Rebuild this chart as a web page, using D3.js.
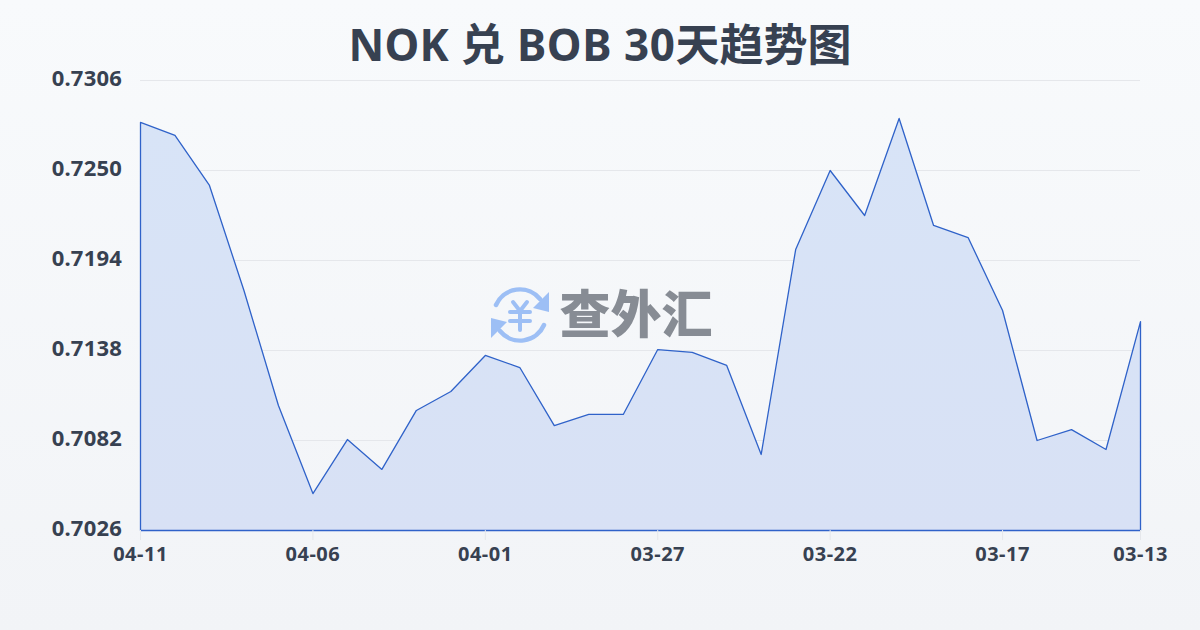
<!DOCTYPE html>
<html><head><meta charset="utf-8">
<script src="https://cdn.jsdelivr.net/npm/d3@7/dist/d3.min.js"></script>
<style>html,body{margin:0;padding:0;background:#f8fafc}svg{display:block}text{font-family:"Noto Sans","Noto Sans CJK SC",sans-serif}</style>
</head><body><svg id="c" width="1200" height="630"></svg>
<script>
const titleParts = [["NOK ",0.3],["兑",0],[" BOB 30",0.6],["天趋势图",0]];
const watermarkText = "查外汇";
const dates = ["04-11","04-10","04-09","04-08","04-07","04-06","04-05","04-04","04-03","04-02","04-01","03-31","03-30","03-29","03-28","03-27","03-26","03-25","03-24","03-23","03-22","03-21","03-20","03-19","03-18","03-17","03-16","03-15","03-14","03-13"];
const rates = [0.72799,0.72718,0.72407,0.71753,0.71038,0.70490,0.70826,0.70640,0.71007,0.71125,0.71349,0.71274,0.70913,0.70982,0.70982,0.71386,0.71368,0.71287,0.70733,0.72008,0.72500,0.72220,0.72824,0.72158,0.72083,0.71629,0.70820,0.70888,0.70764,0.71560];
const yTicks = [0.7026,0.7082,0.7138,0.7194,0.7250,0.7306];
const xTicks = ["04-11","04-06","04-01","03-27","03-22","03-17","03-13"];

const svg = d3.select("#c");
const defs = svg.append("defs");
const bg = defs.append("linearGradient").attr("id","bg").attr("x1",0).attr("y1",0).attr("x2",0).attr("y2",1);
bg.append("stop").attr("offset",0).attr("stop-color","#f8fafc");
bg.append("stop").attr("offset",1).attr("stop-color","#f2f4f7");
const ag = defs.append("linearGradient").attr("id","ag").attr("x1",0).attr("y1",0).attr("x2",0).attr("y2",1);
ag.append("stop").attr("offset",0).attr("stop-color","#d8e4f7");
ag.append("stop").attr("offset",1).attr("stop-color","#d8e1f5");
svg.append("rect").attr("width",1200).attr("height",630).attr("fill","url(#bg)");

const x = d3.scalePoint().domain(dates).range([140.5,1140.5]);
const y = d3.scaleLinear().domain([0.7026,0.7306]).range([530.5,80.5]);
const ink = "#374151";

svg.append("text").attr("x",600).attr("y",61).attr("text-anchor","middle")
  .attr("font-size",44).attr("font-weight",700).attr("fill",ink)
  .selectAll("tspan").data(titleParts).join("tspan")
  .attr("letter-spacing",d=>d[1]).style("white-space","pre").text(d=>d[0]);

// grid
svg.append("g").selectAll("line").data(yTicks).join("line")
  .attr("x1",140).attr("x2",1140).attr("y1",d=>y(d)).attr("y2",d=>y(d))
  .attr("stroke","#e5e7eb").attr("stroke-width",1);

// area & line
const area = d3.area().x((d,i)=>x(dates[i])).y0(y(0.7026)).y1(d=>y(d));
svg.append("path").datum(rates).attr("d",area).attr("fill","url(#ag)").attr("fill-opacity",1)
  .attr("stroke","#2f62c9").attr("stroke-width",1.3).attr("stroke-linejoin","round");

// watermark
const wm = svg.append("g");
const icon = wm.append("g").attr("transform","translate(520,315)").attr("fill","none").attr("stroke","#9dbff5").attr("stroke-width",4.5).attr("stroke-linecap","round");
icon.append("path").attr("d","M-24,-10 A26,26 0 0 1 20,-16");
icon.append("path").attr("d","M24,10 A26,26 0 0 1 -20,16");
icon.append("path").attr("fill","#9dbff5").attr("stroke","none").attr("d","M13,-7 L29,-23 L29,-3 Z");
icon.append("path").attr("fill","#9dbff5").attr("stroke","none").attr("d","M-13,7 L-29,23 L-29,3 Z");
icon.append("path").attr("stroke-width",4).attr("d","M-7,-13 L0,-4 L7,-13 M-10,-3 H10 M-10,6 H10 M0,-4 V15");
wm.append("text").attr("x",636).attr("y",333).attr("text-anchor","middle").attr("font-size",51)
  .attr("font-weight",900).attr("fill","#878c94").style("font-family","'Noto Sans CJK SC'").text(watermarkText);

// y labels
svg.append("g").selectAll("text").data(yTicks).join("text")
  .attr("x",122).attr("y",d=>y(d)+5.5).attr("text-anchor","end").attr("letter-spacing",0.2)
  .attr("font-size",22).attr("font-weight",700).attr("fill",ink).text(d=>d.toFixed(4));

// x ticks
const xg = svg.append("g");
xg.selectAll("line").data(xTicks).join("line")
  .attr("x1",d=>x(d)).attr("x2",d=>x(d)).attr("y1",530).attr("y2",540).attr("stroke","#e5e7eb");
xg.selectAll("text").data(xTicks).join("text")
  .attr("x",d=>x(d)).attr("y",560.5).attr("text-anchor","middle").attr("letter-spacing",0.5)
  .attr("font-size",20).attr("font-weight",700).attr("fill",ink).text(d=>d);
</script></body></html>
